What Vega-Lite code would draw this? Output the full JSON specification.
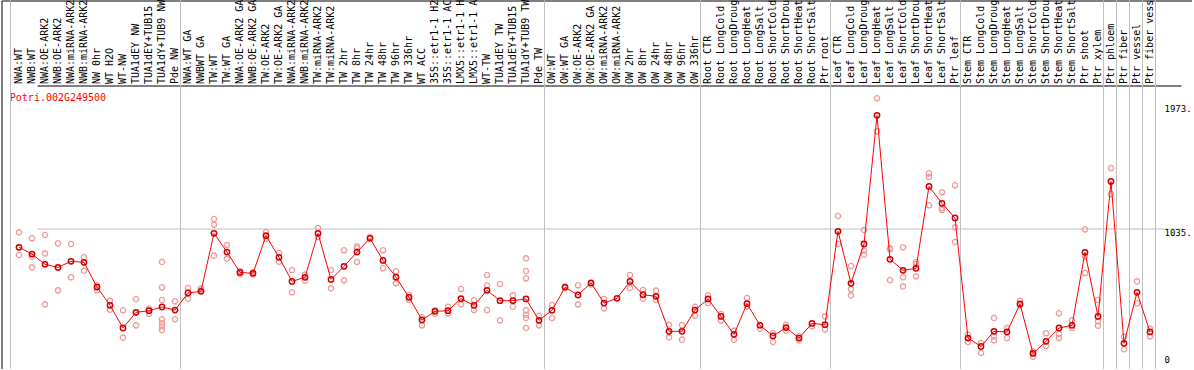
{
  "$schema": "https://vega.github.io/schema/vega-lite/v6.json",
  "autosize": {"type": "none"},
  "padding": {"left": 1.5, "top": 0.5, "right": 0, "bottom": 0},
  "width": 1190.5,
  "height": 368.5,
  "background": "white",
  "config": {"view": {"stroke": "black", "strokeWidth": 1}, "font": "DejaVu Sans Mono"},
  "datasets": {
    "expr": [
      {"i": 1, "label": "NWA:WT", "mean": 891, "reps": [1004, 833]},
      {"i": 2, "label": "NWB:WT", "mean": 840, "reps": [959, 820, 739]},
      {"i": 3, "label": "NWA:OE-ARK2", "mean": 762, "reps": [984, 845, 459]},
      {"i": 4, "label": "NWB:OE-ARK2", "mean": 739, "reps": [921, 565]},
      {"i": 5, "label": "NWA:miRNA-ARK2", "mean": 785, "reps": [916, 664]},
      {"i": 6, "label": "NWB:miRNA-ARK2", "mean": 777, "reps": [815, 714]},
      {"i": 7, "label": "NW 0hr", "mean": 590, "reps": [603, 565]},
      {"i": 8, "label": "WT H2O", "mean": 452, "reps": [487, 419]},
      {"i": 9, "label": "WT-NW", "mean": 280, "reps": [414, 207]},
      {"i": 10, "label": "TUA1dEY NW", "mean": 399, "reps": [500, 300]},
      {"i": 11, "label": "TUA1dEY+TUB15 NW", "mean": 411, "reps": [426, 386]},
      {"i": 12, "label": "TUA1dY+TUB9 NW", "mean": 439, "reps": [780, 588, 492, 346, 315, 293, 265]},
      {"i": 13, "label": "Pde NW", "mean": 416, "reps": [482, 346]},
      {"i": 14, "label": "NWA:WT GA", "mean": 545, "reps": [583, 502]},
      {"i": 15, "label": "NWBWT GA", "mean": 558, "reps": [578, 563]},
      {"i": 16, "label": "TW:WT", "mean": 997, "reps": [1105, 1062, 828]},
      {"i": 17, "label": "TW:WT GA", "mean": 855, "reps": [908, 805]},
      {"i": 18, "label": "NWA:OE-ARK2 GA", "mean": 701, "reps": [710, 689]},
      {"i": 19, "label": "NWB:OE-ARK2 GA", "mean": 694, "reps": [702, 685]},
      {"i": 20, "label": "TW:OE-ARK2", "mean": 979, "reps": [1007, 956]},
      {"i": 21, "label": "TW:OE-ARK2 GA", "mean": 815, "reps": [850, 782]},
      {"i": 22, "label": "NWA:miRNA-ARK2 GA", "mean": 633, "reps": [719, 550]},
      {"i": 23, "label": "NWB:miRNA-ARK2 GA", "mean": 664, "reps": [684, 638]},
      {"i": 24, "label": "TW:miRNA-ARK2", "mean": 997, "reps": [1037, 969]},
      {"i": 25, "label": "TW:miRNA-ARK2 GA", "mean": 648, "reps": [719, 580]},
      {"i": 26, "label": "TW 2hr", "mean": 747, "reps": [868, 641]},
      {"i": 27, "label": "TW 8hr", "mean": 855, "reps": [898, 886, 780]},
      {"i": 28, "label": "TW 24hr", "mean": 959, "reps": [969]},
      {"i": 29, "label": "TW 48hr", "mean": 792, "reps": [868, 732]},
      {"i": 30, "label": "TW 96hr", "mean": 665, "reps": [709, 618]},
      {"i": 31, "label": "TW 336hr", "mean": 512, "reps": [532, 492]},
      {"i": 32, "label": "WT ACC", "mean": 341, "reps": [361, 300]},
      {"i": 33, "label": "35S::etr1-1 H2O", "mean": 406, "reps": [416, 388]},
      {"i": 34, "label": "35S::etr1-1 ACC", "mean": 411, "reps": [441, 391]},
      {"i": 35, "label": "LMX5::etr1-1 H2O", "mean": 502, "reps": [575, 459]},
      {"i": 36, "label": "LMX5::etr1-1 ACC", "mean": 452, "reps": [490, 416]},
      {"i": 37, "label": "WT-TW", "mean": 565, "reps": [681, 601, 416]},
      {"i": 38, "label": "TUA1dEY TW", "mean": 487, "reps": [613, 338]},
      {"i": 39, "label": "TUA1dEY+TUB15 TW", "mean": 487, "reps": [527, 441]},
      {"i": 40, "label": "TUA1dY+TUB9 TW", "mean": 500, "reps": [807, 712, 656, 414, 381, 356, 280]},
      {"i": 41, "label": "Pde TW", "mean": 338, "reps": [373, 300]},
      {"i": 42, "label": "OW:WT", "mean": 414, "reps": [454, 356]},
      {"i": 43, "label": "OW:WT GA", "mean": 588, "reps": [596]},
      {"i": 44, "label": "OW:OE-ARK2", "mean": 530, "reps": [603, 459]},
      {"i": 45, "label": "OW:OE-ARK2 GA", "mean": 621, "reps": [610]},
      {"i": 46, "label": "OW:miRNA-ARK2", "mean": 469, "reps": [500, 429]},
      {"i": 47, "label": "OW:miRNA-ARK2 GA", "mean": 505, "reps": []},
      {"i": 48, "label": "OW 2hr", "mean": 633, "reps": [681, 583]},
      {"i": 49, "label": "OW 8hr", "mean": 532, "reps": [568, 502]},
      {"i": 50, "label": "OW 24hr", "mean": 520, "reps": [563, 492]},
      {"i": 51, "label": "OW 48hr", "mean": 255, "reps": [305, 209]},
      {"i": 52, "label": "OW 96hr", "mean": 255, "reps": [303, 192]},
      {"i": 53, "label": "OW 336hr", "mean": 416, "reps": [441, 373]},
      {"i": 54, "label": "Root CTR", "mean": 500, "reps": [527, 469]},
      {"i": 55, "label": "Root LongCold", "mean": 368, "reps": [386, 336]},
      {"i": 56, "label": "Root LongDrought", "mean": 232, "reps": [260, 192]},
      {"i": 57, "label": "Root LongHeat", "mean": 464, "reps": [507, 444]},
      {"i": 58, "label": "Root LongSalt", "mean": 300, "reps": [305, 275]},
      {"i": 59, "label": "Root ShortCold", "mean": 220, "reps": [242, 174]},
      {"i": 60, "label": "Root ShortDrought", "mean": 283, "reps": [305, 260]},
      {"i": 61, "label": "Root ShortHeat", "mean": 204, "reps": [217, 187]},
      {"i": 62, "label": "Root ShortSalt", "mean": 315, "reps": [293]},
      {"i": 63, "label": "Ptr root", "mean": 305, "reps": [368, 270]},
      {"i": 64, "label": "Leaf CTR", "mean": 1012, "reps": [1128, 916]},
      {"i": 65, "label": "Leaf LongCold", "mean": 618, "reps": [749, 575, 527]},
      {"i": 66, "label": "Leaf LongDrought", "mean": 916, "reps": [1022, 865, 835]},
      {"i": 67, "label": "Leaf LongHeat", "mean": 1890, "reps": [2019, 1769]},
      {"i": 68, "label": "Leaf LongSalt", "mean": 800, "reps": [886, 876, 643]},
      {"i": 69, "label": "Leaf ShortCold", "mean": 717, "reps": [891, 664, 595]},
      {"i": 70, "label": "Leaf ShortDrought", "mean": 732, "reps": [780, 765, 671]},
      {"i": 71, "label": "Leaf ShortHeat", "mean": 1352, "reps": [1451, 1423, 1209]},
      {"i": 72, "label": "Leaf ShortSalt", "mean": 1224, "reps": [1307, 1188, 1173]},
      {"i": 73, "label": "Ptr leaf", "mean": 1113, "reps": [1360, 1042, 931]},
      {"i": 74, "label": "Stem CTR", "mean": 204, "reps": [230, 174]},
      {"i": 75, "label": "Stem LongCold", "mean": 140, "reps": [167, 91]},
      {"i": 76, "label": "Stem LongDrought", "mean": 255, "reps": [356, 217, 187]},
      {"i": 77, "label": "Stem LongHeat", "mean": 250, "reps": [280, 204]},
      {"i": 78, "label": "Stem LongSalt", "mean": 462, "reps": [487, 452]},
      {"i": 79, "label": "Stem ShortCold", "mean": 88, "reps": [104, 63]},
      {"i": 80, "label": "Stem ShortDrought", "mean": 179, "reps": [240, 144]},
      {"i": 81, "label": "Stem ShortHeat", "mean": 280, "reps": [391, 235, 204]},
      {"i": 82, "label": "Stem ShortSalt", "mean": 300, "reps": [338, 280]},
      {"i": 83, "label": "Ptr shoot", "mean": 853, "reps": [1027, 823, 696]},
      {"i": 84, "label": "Ptr xylem", "mean": 368, "reps": [492, 331, 298]},
      {"i": 85, "label": "Ptr phloem", "mean": 1390, "reps": [1491, 1294]},
      {"i": 86, "label": "Ptr fiber", "mean": 164, "reps": [214, 119]},
      {"i": 87, "label": "Ptr vessel", "mean": 550, "reps": [633, 467]},
      {"i": 88, "label": "Ptr fiber vessel", "mean": 250, "reps": [275, 217]}
    ],
    "bounds": [
      {"i": 13, "label": "Pde NW"},
      {"i": 41, "label": "Pde TW"},
      {"i": 53, "label": "OW 336hr"},
      {"i": 63, "label": "Ptr root"},
      {"i": 73, "label": "Ptr leaf"},
      {"i": 84, "label": "Ptr xylem"},
      {"i": 85, "label": "Ptr phloem"},
      {"i": 86, "label": "Ptr fiber"},
      {"i": 87, "label": "Ptr vessel"},
      {"i": 88, "label": "Ptr fiber vessel"}
    ],
    "first": [
      {"i": 1, "label": "NWA:WT"}
    ]
  },
  "layer": [
    {
      "data": {"name": "bounds"},
      "mark": {"type": "rule", "color": "#c0c0c0", "strokeWidth": 1},
      "encoding": {
        "x": {"field": "label", "type": "nominal", "sort": {"field": "i", "op": "min"}, "bandPosition": 0.923}
      }
    },
    {
      "data": {"name": "first"},
      "mark": {"type": "rule", "color": "#c0c0c0", "strokeWidth": 1},
      "encoding": {
        "x": {"field": "label", "type": "nominal", "sort": {"field": "i", "op": "min"}, "bandPosition": -0.154}
      }
    },
    {
      "data": {"name": "expr"},
      "transform": [{"flatten": ["reps"]}],
      "mark": {"type": "point", "shape": "circle", "filled": false, "stroke": "#f09a9a", "strokeWidth": 1.3, "size": 28, "opacity": 1},
      "encoding": {
        "x": {"field": "label", "type": "nominal", "sort": {"field": "i", "op": "min"}},
        "y": {"field": "reps", "type": "quantitative", "scale": {"domain": [-30.3, 2759.7], "nice": false, "zero": false}}
      }
    },
    {
      "data": {"name": "expr"},
      "mark": {"type": "line", "color": "#ff0000", "strokeWidth": 1},
      "encoding": {
        "x": {"field": "label", "type": "nominal", "sort": {"field": "i", "op": "min"}},
        "y": {"field": "mean", "type": "quantitative", "scale": {"domain": [-30.3, 2759.7], "nice": false, "zero": false}}
      }
    },
    {
      "data": {"name": "expr"},
      "mark": {"type": "point", "shape": "circle", "filled": false, "stroke": "#d00000", "strokeWidth": 1.5, "size": 28, "opacity": 1},
      "encoding": {
        "x": {
          "field": "label", "type": "nominal", "sort": {"field": "i", "op": "min"},
          "scale": {"type": "band", "range": [11, 1155], "paddingInner": 0, "paddingOuter": 0},
          "axis": {
            "orient": "top",
            "title": "Potri.002G249500",
            "titleX": 7.8,
            "titleY": 96.5,
            "titleAlign": "left",
            "titleBaseline": "middle",
            "titleAngle": 0,
            "titleColor": "#ff0000",
            "titleFont": "DejaVu Sans Mono",
            "titleFontSize": 10,
            "titleFontWeight": "normal",
            "labelAngle": -90,
            "labelAlign": "left",
            "labelBaseline": "middle",
            "labelPadding": -83,
            "labelFont": "DejaVu Sans Mono",
            "labelFontSize": 10,
            "labelColor": "black",
            "labelOverlap": false,
            "labelBound": false,
            "labelLimit": 300,
            "ticks": false,
            "tickSize": 0,
            "domain": false,
            "grid": false
          }
        },
        "y": {
          "field": "mean", "type": "quantitative",
          "scale": {"domain": [-30.3, 2759.7], "nice": false, "zero": false},
          "axis": {
            "orient": "right",
            "title": null,
            "values": [0, 1035, 1973, 2116],
            "labelExpr": "datum.value == 0 ? '0' : (datum.value > 2100 ? '' : datum.value + '.')",
            "labelAlign": "left",
            "labelBaseline": {"condition": {"test": "datum.value == 0", "value": "bottom"}, "value": "top"},
            "labelPadding": -28,
            "labelFont": "DejaVu Sans Mono",
            "labelFontSize": 9,
            "labelColor": "black",
            "labelOverlap": false,
            "labelFlush": false,
            "ticks": false,
            "tickSize": 0,
            "domain": false,
            "grid": true,
            "gridColor": {"condition": {"test": "datum.value > 2100", "value": "black"}, "value": "#c0c0c0"},
            "gridOpacity": {"condition": {"test": "datum.value == 0 || datum.value == 1973", "value": 0}, "value": 1},
            "gridWidth": 1
          }
        }
      }
    }
  ]
}
